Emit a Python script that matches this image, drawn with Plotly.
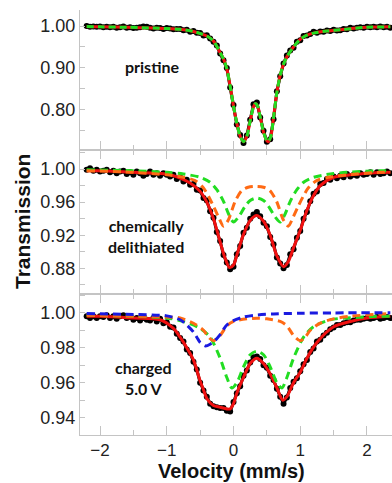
import plotly.graph_objects as go

# ---------------- data ----------------
vel = [-2.2, -2.15, -2.1, -2.05, -2.0, -1.95, -1.9, -1.85, -1.8, -1.75,
       -1.7, -1.65, -1.6, -1.55, -1.5, -1.45, -1.4, -1.35, -1.3, -1.25,
       -1.2, -1.15, -1.1, -1.05, -1.0, -0.95, -0.9, -0.85, -0.8, -0.75,
       -0.7, -0.65, -0.6, -0.55, -0.5, -0.45, -0.4, -0.35, -0.3, -0.25,
       -0.2, -0.15, -0.1, -0.05, 0.0, 0.05, 0.1, 0.15, 0.2, 0.25,
       0.3, 0.35, 0.4, 0.45, 0.5, 0.55, 0.6, 0.65, 0.7, 0.75,
       0.8, 0.85, 0.9, 0.95, 1.0, 1.05, 1.1, 1.15, 1.2, 1.25,
       1.3, 1.35, 1.4, 1.45, 1.5, 1.55, 1.6, 1.65, 1.7, 1.75,
       1.8, 1.85, 1.9, 1.95, 2.0, 2.05, 2.1, 2.15, 2.2, 2.25,
       2.3, 2.35]

pristine_data = [1.000, 0.998, 0.999, 0.998, 0.999, 0.997, 0.998, 0.997, 0.998, 0.996,
                 0.997, 0.999, 0.996, 0.997, 0.995, 0.996, 0.997, 0.999, 0.998, 0.996,
                 0.994, 0.996, 0.995, 0.993, 0.995, 0.994, 0.992, 0.993, 0.993, 0.990,
                 0.991, 0.986, 0.988, 0.984, 0.983, 0.977, 0.978, 0.970, 0.962, 0.953,
                 0.934, 0.918, 0.899, 0.852, 0.810, 0.763, 0.738, 0.719, 0.737, 0.775,
                 0.812, 0.816, 0.780, 0.748, 0.722, 0.728, 0.776, 0.843, 0.879, 0.910,
                 0.929, 0.941, 0.948, 0.962, 0.966, 0.976, 0.977, 0.981, 0.986, 0.984,
                 0.987, 0.986, 0.989, 0.988, 0.991, 0.989, 0.990, 0.993, 0.992, 0.996,
                 0.994, 0.996, 0.997, 0.996, 0.998, 0.997, 0.998, 0.997, 0.999, 0.997,
                 0.998, 0.996]

chem_data = [0.999, 1.001, 0.998, 0.999, 0.997, 0.998, 0.999, 0.996, 0.998, 0.995,
             0.997, 0.998, 0.994, 0.996, 0.993, 0.997, 0.995, 0.992, 0.994, 0.997,
             0.993, 0.995, 0.992, 0.995, 0.993, 0.991, 0.993, 0.988, 0.990, 0.985,
             0.987, 0.981, 0.982, 0.975, 0.974, 0.965, 0.962, 0.949, 0.941, 0.924,
             0.913, 0.896, 0.887, 0.879, 0.882, 0.897, 0.907, 0.923, 0.929, 0.940,
             0.945, 0.948, 0.943, 0.935, 0.931, 0.918, 0.909, 0.893, 0.886, 0.880,
             0.884, 0.897, 0.903, 0.917, 0.925, 0.940, 0.948, 0.961, 0.970, 0.973,
             0.982, 0.983, 0.988, 0.987, 0.991, 0.989, 0.992, 0.990, 0.994, 0.991,
             0.993, 0.992, 0.995, 0.993, 0.994, 0.996, 0.993, 0.996, 0.994, 0.995,
             0.997, 0.995]

charged_data = [0.998, 0.997, 0.998, 0.997, 0.998, 0.9975, 0.9985, 0.997, 0.998, 0.9965,
                0.998, 0.9985, 0.997, 0.9975, 0.996, 0.997, 0.9955, 0.997, 0.996, 0.9955,
                0.997, 0.995, 0.9965, 0.994, 0.9945, 0.992, 0.9915, 0.988, 0.9855, 0.9835,
                0.979, 0.977, 0.972, 0.9675, 0.960, 0.9555, 0.952, 0.948, 0.9465, 0.946,
                0.9455, 0.9455, 0.944, 0.9435, 0.949, 0.954, 0.958, 0.964, 0.967, 0.9715,
                0.9745, 0.975, 0.9735, 0.970, 0.9685, 0.964, 0.9615, 0.9565, 0.952, 0.948,
                0.9515, 0.957, 0.9605, 0.9625, 0.9665, 0.9705, 0.973, 0.9775, 0.9795, 0.9835,
                0.9845, 0.987, 0.9885, 0.9905, 0.9915, 0.993, 0.993, 0.994, 0.9945, 0.9945,
                0.9955, 0.996, 0.996, 0.9965, 0.997, 0.9965, 0.997, 0.9975, 0.9965, 0.997,
                0.9975, 0.997]

# fits (pristine)
p_fit_v = [-2.2, -2.0, -1.6, -1.2, -1.0, -0.8, -0.6, -0.5, -0.4, -0.3, -0.2, -0.15, -0.1, -0.05,
           0.0, 0.05, 0.1, 0.15, 0.2, 0.25, 0.3, 0.33, 0.36, 0.4, 0.45, 0.5, 0.52, 0.56, 0.6,
           0.65, 0.7, 0.75, 0.8, 0.9, 1.0, 1.1, 1.2, 1.4, 1.6, 2.0, 2.35]
p_fit_t = [0.999, 0.998, 0.997, 0.995, 0.994, 0.992, 0.987, 0.982, 0.976, 0.964, 0.936, 0.921,
           0.897, 0.856, 0.808, 0.766, 0.735, 0.722, 0.735, 0.772, 0.806, 0.814, 0.808, 0.782,
           0.745, 0.724, 0.722, 0.735, 0.780, 0.840, 0.882, 0.908, 0.926, 0.950, 0.968, 0.978,
           0.983, 0.988, 0.991, 0.997, 0.998]

# fits (chemically delithiated)
c_fit_v = [-2.2, -2.0, -1.5, -1.0, -0.8, -0.65, -0.5, -0.4, -0.3, -0.2, -0.125, -0.06, 0.0,
           0.05, 0.15, 0.25, 0.35, 0.45, 0.55, 0.65, 0.75, 0.82, 0.9, 1.0, 1.1, 1.2, 1.3,
           1.5, 1.75, 2.0, 2.35]
c_fit_t = [0.998, 0.998, 0.996, 0.994, 0.989, 0.983, 0.973, 0.960, 0.940, 0.912, 0.892, 0.881,
           0.884, 0.896, 0.921, 0.938, 0.944, 0.937, 0.920, 0.895, 0.882, 0.888, 0.905, 0.926,
           0.950, 0.968, 0.980, 0.990, 0.993, 0.995, 0.996]
c_green_v = [-2.2, -1.5, -1.0, -0.75, -0.5, -0.35, -0.25, -0.15, -0.075, 0.0, 0.075, 0.175,
             0.25, 0.35, 0.45, 0.525, 0.625, 0.7, 0.775, 0.85, 0.95, 1.05, 1.2, 1.45, 1.7,
             2.2, 2.35]
c_green_t = [0.999, 0.998, 0.996, 0.994, 0.990, 0.984, 0.975, 0.961, 0.946, 0.936, 0.942,
             0.955, 0.962, 0.965, 0.962, 0.955, 0.942, 0.936, 0.946, 0.961, 0.975, 0.984,
             0.990, 0.994, 0.996, 0.998, 0.998]
c_orange_v = [-2.2, -1.5, -1.0, -0.75, -0.575, -0.45, -0.375, -0.3, -0.225, -0.15, -0.08,
              0.025, 0.125, 0.22, 0.335, 0.45, 0.545, 0.645, 0.75, 0.82, 0.895, 0.97, 1.045,
              1.12, 1.245, 1.42, 1.7, 2.2, 2.35]
c_orange_t = [0.998, 0.996, 0.993, 0.990, 0.986, 0.977, 0.967, 0.955, 0.942, 0.931, 0.938,
              0.961, 0.974, 0.978, 0.979, 0.978, 0.974, 0.961, 0.938, 0.931, 0.942, 0.955,
              0.967, 0.977, 0.986, 0.990, 0.993, 0.996, 0.996]

# fits (charged 5.0 V)
h_fit_v = [-2.2, -2.0, -1.5, -1.1, -0.9, -0.8, -0.7, -0.6, -0.5, -0.45, -0.4, -0.3, -0.2,
           -0.1, -0.05, 0.0, 0.05, 0.15, 0.25, 0.35, 0.45, 0.55, 0.65, 0.74, 0.8, 0.9, 1.0,
           1.1, 1.25, 1.5, 1.75, 2.0, 2.35]
h_fit_t = [0.998, 0.998, 0.997, 0.996, 0.991, 0.986, 0.980, 0.973, 0.961, 0.956, 0.951,
           0.947, 0.946, 0.945, 0.945, 0.948, 0.954, 0.963, 0.971, 0.974, 0.971, 0.965,
           0.957, 0.950, 0.952, 0.960, 0.966, 0.974, 0.983, 0.992, 0.995, 0.997, 0.998]
h_green_v = [-2.2, -1.5, -1.0, -0.75, -0.5, -0.35, -0.2, -0.1, -0.025, 0.05, 0.15, 0.25,
             0.35, 0.45, 0.55, 0.65, 0.725, 0.8, 0.9, 1.05, 1.2, 1.45, 1.7, 2.2, 2.35]
h_green_t = [0.9985, 0.998, 0.997, 0.995, 0.991, 0.986, 0.974, 0.963, 0.957, 0.960, 0.969,
             0.976, 0.978, 0.976, 0.969, 0.960, 0.957, 0.963, 0.974, 0.986, 0.992, 0.996,
             0.997, 0.998, 0.998]
h_orange_v = [-2.2, -1.5, -1.0, -0.8, -0.6, -0.45, -0.375, -0.3, -0.2, -0.1, 0.0, 0.2, 0.35,
              0.5, 0.7, 0.8, 0.9, 1.0, 1.075, 1.15, 1.3, 1.5, 1.75, 2.2, 2.35]
h_orange_t = [0.9985, 0.998, 0.9975, 0.997, 0.994, 0.990, 0.986, 0.984, 0.987, 0.9925, 0.995,
              0.9965, 0.9968, 0.9965, 0.995, 0.9925, 0.987, 0.984, 0.986, 0.990, 0.994,
              0.9965, 0.998, 0.9992, 0.9995]
h_blue_v = [-2.2, -1.5, -1.0, -0.8, -0.7, -0.6, -0.55, -0.5, -0.42, -0.35, -0.28, -0.2, -0.1,
            0.0, 0.15, 0.3, 0.6, 1.0, 1.5, 2.35]
h_blue_t = [0.9995, 0.999, 0.9982, 0.996, 0.993, 0.989, 0.986, 0.983, 0.981, 0.982, 0.984,
            0.9875, 0.993, 0.9955, 0.9975, 0.9985, 0.9993, 0.9997, 0.9999, 1.0]

panel_labels = ["pristine", "chemically<br>delithiated", "charged<br>5.0 V"]
y_ranges = [[0.702, 1.0385], [0.849, 1.023], [0.9301, 1.0107]]
y_dticks = [0.1, 0.04, 0.02]
y_tick0 = [0.8, 0.88, 0.94]

# ---------------- styling ----------------
W, H = 392, 483
def px(x):
    return x / W
def py(y):
    return 1 - y / H

RED = "#f01010"
GREEN = "#22dd22"
ORANGE = "#ff6a14"
BLUE = "#1a1ae0"
AXC = "#c4c4c4"
TICKFONT = dict(family="Liberation Sans, Arial", size=17, color="#222")

fig = go.Figure()

def data_trace(y, ax):
    fig.add_trace(go.Scatter(x=vel, y=y, mode="lines+markers",
                             line=dict(color="black", width=3),
                             marker=dict(color="black", size=6),
                             xaxis=ax[0], yaxis=ax[1], showlegend=False, hoverinfo="skip"))

def line_trace(xv, yv, color, ax, dash=None, width=3):
    fig.add_trace(go.Scatter(x=xv, y=yv, mode="lines",
                             line=dict(color=color, width=width, dash=dash, shape="spline", smoothing=0.8),
                             xaxis=ax[0], yaxis=ax[1], showlegend=False, hoverinfo="skip"))

ax1 = ("x", "y")
ax2 = ("x2", "y2")
ax3 = ("x3", "y3")

data_trace(pristine_data, ax1)
line_trace(p_fit_v, p_fit_t, RED, ax1)
line_trace(p_fit_v, p_fit_t, GREEN, ax1, dash="7px,4px")

data_trace(chem_data, ax2)
line_trace(c_fit_v, c_fit_t, RED, ax2)
line_trace(c_green_v, c_green_t, GREEN, ax2, dash="8px,5px")
line_trace(c_orange_v, c_orange_t, ORANGE, ax2, dash="8px,5px")

data_trace(charged_data, ax3)
line_trace(h_fit_v, h_fit_t, RED, ax3)
line_trace(h_green_v, h_green_t, GREEN, ax3, dash="8px,5px")
line_trace(h_orange_v, h_orange_t, ORANGE, ax3, dash="8px,5px")
line_trace(h_blue_v, h_blue_t, BLUE, ax3, dash="8px,5px")

x_dom = [px(80), 1.0]
y_doms = [[py(150), py(10)], [py(294), py(150)], [py(435), py(294)]]
x_range = [-2.30, 2.375]

layout = dict(
    width=W, height=H, margin=dict(l=0, r=0, t=0, b=0),
    paper_bgcolor="white", plot_bgcolor="white", showlegend=False,
)
for i in range(3):
    sfx = "" if i == 0 else str(i + 1)
    layout["xaxis" + sfx] = dict(
        domain=x_dom, range=x_range, anchor="y" + sfx,
        showline=True, linecolor=AXC, linewidth=1,
        mirror=("ticks" if i > 0 else False),
        ticks="inside", ticklen=9, tickcolor=AXC, tickwidth=1,
        dtick=1, tick0=0,
        minor=dict(ticks="inside", ticklen=5, dtick=0.5, tick0=0, tickcolor=AXC),
        showgrid=False, zeroline=False,
        showticklabels=(i == 2), tickfont=TICKFONT,
    )
    layout["yaxis" + sfx] = dict(
        domain=y_doms[i], range=y_ranges[i], anchor="x" + sfx,
        showline=True, linecolor=AXC, linewidth=1,
        ticks="inside", ticklen=5, tickcolor=AXC, tickwidth=1,
        dtick=y_dticks[i], tick0=y_tick0[i], tickformat=".2f",
        minor=dict(ticks="inside", ticklen=5, dtick=y_dticks[i] / 2, tickcolor=AXC),
        showgrid=False, zeroline=False,
        tickfont=dict(family="Liberation Sans, Arial", size=18, color="#222"),
        ticklabelstandoff=0,
    )
fig.update_layout(**layout)

LBLFONT = dict(family="Lato, Open Sans, sans-serif", size=16, color="#111")
label_pos = [(152, 67), (146, 236), (143, 378)]
for text, (lx, ly) in zip(panel_labels, label_pos):
    fig.add_annotation(x=px(lx), y=py(ly), xref="paper", yref="paper", text="<b>" + text + "</b>",
                       showarrow=False, font=LBLFONT, align="center",
                       xanchor="center", yanchor="middle")

fig.add_annotation(x=px(22), y=py(222), xref="paper", yref="paper", text="<b>Transmission</b>",
                   textangle=-90, showarrow=False, xanchor="center", yanchor="middle",
                   font=dict(family="Liberation Sans, Arial", size=21, color="#111"))
fig.add_annotation(x=px(231), y=py(471), xref="paper", yref="paper", text="<b>Velocity (mm/s)</b>",
                   showarrow=False, xanchor="center", yanchor="middle",
                   font=dict(family="Liberation Sans, Arial", size=20, color="#111"))

fig.write_html("out.html")
